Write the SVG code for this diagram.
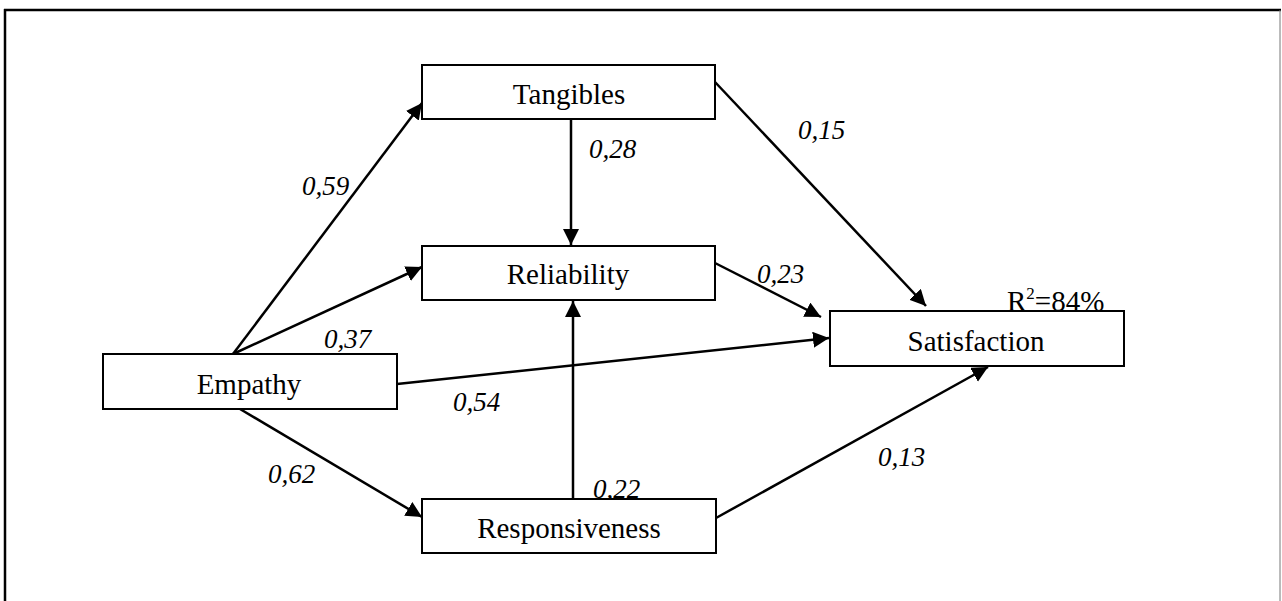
<svg xmlns="http://www.w3.org/2000/svg" width="1282" height="601" viewBox="0 0 1282 601">
<style>
.box{fill:#fff;stroke:#000;stroke-width:2}
.nt{font-family:"Liberation Serif","Times New Roman",serif;font-size:29px;fill:#000;text-anchor:middle}
.lb{font-family:"Liberation Serif","Times New Roman",serif;font-size:27px;font-style:italic;fill:#000}
.r2{font-family:"Liberation Serif","Times New Roman",serif;font-size:29px;fill:#000}
.ed{stroke:#000;stroke-width:2.5;fill:none;marker-end:url(#ah)}
</style>
<defs>
<marker id="ah" markerUnits="userSpaceOnUse" markerWidth="17" markerHeight="17" refX="16" refY="8" orient="auto">
<path d="M0,0 L16,8 L0,16 z" fill="#000"/>
</marker>
</defs>
<rect x="0" y="0" width="1282" height="601" fill="#fff"/>
<g id="frame">
<line x1="4" y1="10" x2="1281" y2="10" stroke="#000" stroke-width="2.5"/>
<line x1="5" y1="9" x2="5" y2="601" stroke="#000" stroke-width="2.5"/>
<line x1="1280" y1="10" x2="1280" y2="601" stroke="#777" stroke-width="1"/>
</g>
<g id="connectors">
<line class="ed" x1="233" y1="354" x2="422" y2="103"/>
<line class="ed" x1="233" y1="354" x2="422" y2="267"/>
<line class="ed" x1="397" y1="384" x2="829" y2="338"/>
<line class="ed" x1="240" y1="409" x2="422" y2="517"/>
<line class="ed" x1="571" y1="119" x2="571" y2="245"/>
<line class="ed" x1="573" y1="499" x2="573" y2="301"/>
<line class="ed" x1="715" y1="82" x2="926" y2="306"/>
<line class="ed" x1="715" y1="263" x2="821" y2="317"/>
<line class="ed" x1="716" y1="518" x2="988" y2="367"/>
</g>
<g id="labels">
<text class="lb" x="302" y="195">0,59</text>
<text class="lb" x="589" y="158">0,28</text>
<text class="lb" x="798" y="139">0,15</text>
<text class="lb" x="757" y="283">0,23</text>
<text class="lb" x="324" y="348">0,37</text>
<text class="lb" x="453" y="411">0,54</text>
<text class="lb" x="268" y="483">0,62</text>
<text class="lb" x="593" y="498">0,22</text>
<text class="lb" x="878" y="466">0,13</text>
</g>
<g id="tangibles">
<rect class="box" x="422" y="65" width="293" height="54"/>
<text class="nt" x="569" y="104">Tangibles</text>
</g>
<g id="reliability">
<rect class="box" x="422" y="246" width="293" height="54"/>
<text class="nt" x="568" y="284">Reliability</text>
</g>
<g id="empathy">
<rect class="box" x="103" y="354" width="294" height="55"/>
<text class="nt" x="249" y="394">Empathy</text>
</g>
<g id="responsiveness">
<rect class="box" x="422" y="499" width="294" height="54"/>
<text class="nt" x="569" y="538">Responsiveness</text>
</g>
<g id="satisfaction">
<rect class="box" x="830" y="311" width="294" height="55"/>
<text class="nt" x="976" y="351">Satisfaction</text>
<text class="r2" x="1007" y="311">R<tspan font-size="17" dy="-12">2</tspan><tspan dy="12">=84%</tspan></text>
</g>
</svg>
